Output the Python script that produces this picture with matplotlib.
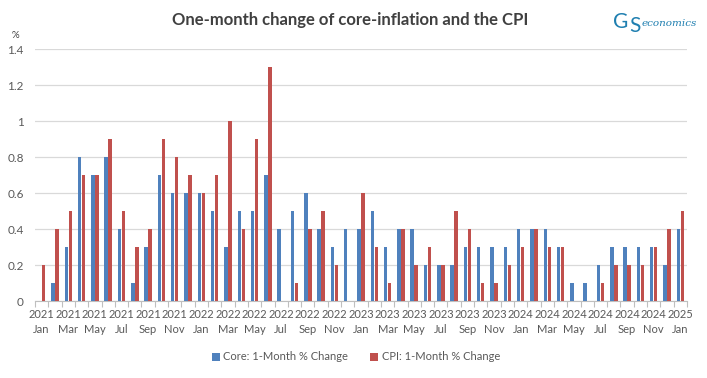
import matplotlib
matplotlib.use("Agg")
import matplotlib.pyplot as plt
import numpy as np

months = ["Jan", "Feb", "Mar", "Apr", "May", "Jun", "Jul", "Aug", "Sep", "Oct", "Nov", "Dec"]
years = [2021, 2022, 2023, 2024]
categories = [f"{y}\n{m}" for y in years for m in months] + ["2025\nJan"]

core = [0.0, 0.1, 0.3, 0.8, 0.7, 0.8, 0.4, 0.1, 0.3, 0.7, 0.6, 0.6,
        0.6, 0.5, 0.3, 0.5, 0.5, 0.7, 0.4, 0.5, 0.6, 0.4, 0.3, 0.4,
        0.4, 0.5, 0.3, 0.4, 0.4, 0.2, 0.2, 0.2, 0.3, 0.3, 0.3, 0.3,
        0.4, 0.4, 0.4, 0.3, 0.1, 0.1, 0.2, 0.3, 0.3, 0.3, 0.3, 0.2,
        0.4]
cpi = [0.2, 0.4, 0.5, 0.7, 0.7, 0.9, 0.5, 0.3, 0.4, 0.9, 0.8, 0.7,
       0.6, 0.7, 1.0, 0.4, 0.9, 1.3, 0.0, 0.1, 0.4, 0.5, 0.2, 0.0,
       0.6, 0.3, 0.1, 0.4, 0.2, 0.3, 0.2, 0.5, 0.4, 0.1, 0.1, 0.2,
       0.3, 0.4, 0.3, 0.3, 0.0, 0.0, 0.1, 0.2, 0.2, 0.2, 0.3, 0.4,
       0.5]
yticks = [0, 0.2, 0.4, 0.6, 0.8, 1, 1.2, 1.4]
ytick_labels = ["0", "0.2", "0.4", "0.6", "0.8", "1", "1.2", "1.4"]

plt.rcParams['font.family'] = ['Lato', 'DejaVu Sans']

fig = plt.figure(figsize=(7.07, 3.78), dpi=100)
W, H = 707, 378
ax = fig.add_axes([35 / W, (H - 301) / H, 652 / W, 252 / H])

x = np.arange(len(categories))
bw = 0.26
blue = "#4F81BD"
red = "#C0504D"
ax.bar(x - 0.15, core, width=bw, color=blue, label="Core: 1-Month % Change", zorder=3)
ax.bar(x + 0.15, cpi, width=bw, color=red, label="CPI: 1-Month % Change", zorder=3)

tc = "#595959"
ax.set_xlim(-0.5, len(categories) - 0.5)
ax.set_ylim(0, 1.4)
ax.set_yticks(yticks)
ax.set_yticklabels(ytick_labels, fontsize=8.5, color=tc)
ax.yaxis.grid(True, color="#D9D9D9", linewidth=0.9, zorder=0)
ax.tick_params(axis='y', length=0, pad=8)

ax.set_xticks(x[::2])
ax.set_xticklabels(categories[::2], fontsize=8, color=tc, linespacing=1.4,
                   multialignment="center")
ax.set_xticks(np.arange(-0.5, len(categories), 1), minor=True)
ax.tick_params(axis='x', which='major', length=0, pad=6)
ax.tick_params(axis='x', which='minor', length=4, color="#BFBFBF", width=0.8)

for s in ["top", "right", "left"]:
    ax.spines[s].set_visible(False)
ax.spines["bottom"].set_color("#BFBFBF")

fig.text(15 / W, 1 - 35 / H, "%", fontsize=7, color="#404040", ha="center", va="center")

fig.text(350 / W, 1 - 20 / H, "One-month change of core-inflation and the CPI",
         fontsize=12, fontweight="bold", color="#404040", ha="center", va="center")

# logo
logo_c = "#1F7FB0"
fig.text(613 / W, 1 - 22 / H, "G", fontsize=15, color=logo_c, ha="left", va="center")
fig.text(629 / W, 1 - 26 / H, "S", fontsize=15, color=logo_c, ha="left", va="center")
fig.text(642 / W, 1 - 23 / H, "economics", fontsize=7.5, color=logo_c, ha="left",
         va="center", style="italic", family="DejaVu Serif")

fig.legend(loc="center", bbox_to_anchor=(356 / W, 1 - 357 / H), ncol=2, frameon=False,
           fontsize=8, handlelength=0.7, handleheight=0.7, handletextpad=0.3,
           columnspacing=2.0, labelcolor=tc)

fig.savefig("out.png", dpi=100)
